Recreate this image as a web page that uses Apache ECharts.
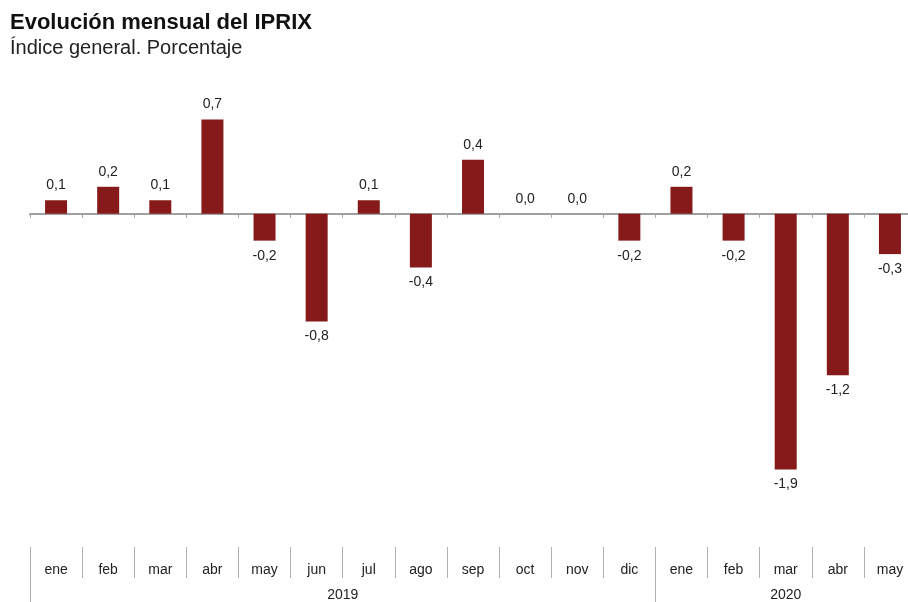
<!DOCTYPE html>
<html>
<head>
<meta charset="utf-8">
<script src="https://cdn.jsdelivr.net/npm/echarts@6/dist/echarts.min.js"></script>
<style>
  html, body { margin: 0; padding: 0; background: #fff; overflow: hidden; }
  /* un poco mas ancho que la ventana: el ultimo mes queda cortado como en el original */
  #chart { width: 916px; height: 602px; }
</style>
</head>
<body>
<div id="chart"></div>
<script>
// meses (ene 2019 - may 2020)
var months = ['ene', 'feb', 'mar', 'abr', 'may', 'jun', 'jul', 'ago', 'sep', 'oct', 'nov', 'dic',
              'ene', 'feb', 'mar', 'abr', 'may'];
var values = [0.1, 0.2, 0.1, 0.7, -0.2, -0.8, 0.1, -0.4, 0.4, 0.0, 0.0, -0.2,
              0.2, -0.2, -1.9, -1.2, -0.3];
var years = ['2019', '2020'];
var yearStarts = [0, 12];   // indice del primer mes de cada año
var yearCenters = [6, 14.5];

var myChart = echarts.init(document.getElementById('chart'));

function fmt(v) {
    return v.toFixed(1).replace('.', ',');
}

var option = {
    backgroundColor: '#fff',
    textStyle: { fontFamily: 'Liberation Sans, Arial, sans-serif' },
    title: {
        text: 'Evolución mensual del IPRIX',
        subtext: 'Índice general. Porcentaje',
        left: 10,
        top: 12,
        itemGap: 4,
        padding: 0,
        textStyle: { fontSize: 22, fontWeight: 'bold', color: '#111' },
        subtextStyle: { fontSize: 20, color: '#222' }
    },
    grid: { left: 30, right: 0, top: 106, bottom: 117 },
    xAxis: [{
        type: 'category',
        data: months,
        axisLine: { onZero: true, lineStyle: { color: '#a0a0a0', width: 2 } },
        axisTick: { show: true, length: 4, lineStyle: { color: '#a0a0a0' } },
        axisLabel: { show: false }
    }, {
        type: 'category',
        data: months,
        position: 'bottom',
        offset: 64,
        axisLine: { show: false },
        axisTick: { show: true, length: 31, lineStyle: { color: '#b0b0b0' } },
        axisLabel: { margin: 16, fontSize: 14, color: '#222' }
    }, {
        type: 'value',
        min: 0,
        max: months.length,
        position: 'bottom',
        offset: 64,
        axisLine: { show: false },
        splitLine: { show: false },
        axisTick: { show: true, length: 55, customValues: yearStarts, lineStyle: { color: '#b0b0b0' } },
        axisLabel: {
            margin: 41, fontSize: 14, color: '#222',
            customValues: yearCenters,
            formatter: function (v) {
                return years[yearCenters.indexOf(v)];
            }
        }
    }],
    yAxis: {
        type: 'value',
        min: -2.0,
        max: 0.8,
        show: false,
        splitLine: { show: false }
    },
    series: [{
        type: 'bar',
        xAxisIndex: 0,
        barWidth: 22,
        data: values.map(function (v) {
            return {
                value: v,
                label: { position: v < 0 ? 'bottom' : 'top' }
            };
        }),
        itemStyle: { color: '#861a1a' },
        label: {
            show: true,
            distance: 8,
            fontSize: 14,
            color: '#222',
            formatter: function (p) { return fmt(p.value); }
        },
        silent: true
    }],
    animation: false
};

myChart.setOption(option);
</script>
</body>
</html>
